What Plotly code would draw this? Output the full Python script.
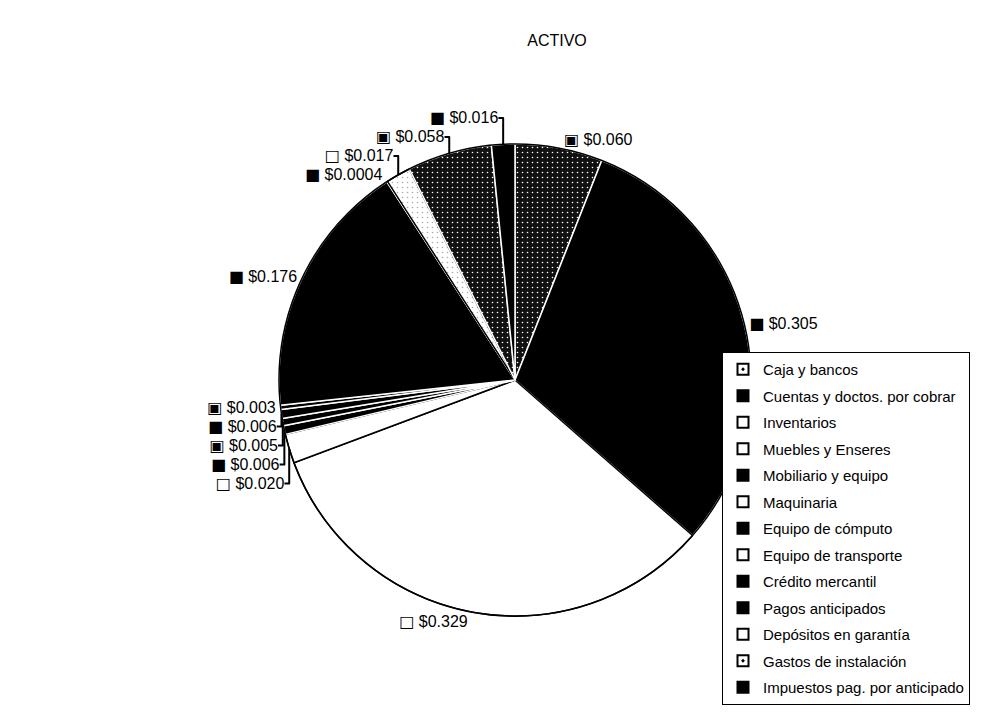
import plotly.graph_objects as go

categories = ["Caja y bancos", "Cuentas y doctos. por cobrar", "Inventarios",
              "Muebles y Enseres", "Mobiliario y equipo", "Maquinaria",
              "Equipo de cómputo", "Equipo de transporte", "Crédito mercantil",
              "Pagos anticipados", "Depósitos en garantía", "Gastos de instalación",
              "Impuestos pag. por anticipado"]
values = [0.060, 0.305, 0.329, 0.020, 0.006, 0.005, 0.006, 0.003, 0.176,
          0.0004, 0.017, 0.058, 0.016]
label_marks = ["▣", "■", "□", "□", "■", "▣", "■", "▣", "■", "■", "□", "▣", "■"]
fill_colors = ["#111111", "#000000", "#ffffff", "#ffffff", "#000000", "#000000",
               "#000000", "#000000", "#000000", "#000000", "#ffffff", "#111111",
               "#000000"]
pattern_shapes = [".", "", "", "", "", "", "", "", "", "", ".", ".", ""]
legend_symbols = ["square-dot", "square", "square", "square", "square",
                  "square", "square", "square", "square", "square",
                  "square", "square-dot", "square"]
legend_fills = ["white", "black", "white", "white", "black", "white", "black",
                "white", "black", "black", "white", "white", "black"]

W, H = 981, 712

def fmt(v):
    return f"${v:.4f}" if v < 0.001 else f"${v:.3f}"

texts = [f'<span style="font-family:DejaVu Sans;font-size:16px">{m}</span> {fmt(v)}'
         for m, v in zip(label_marks, values)]
line_colors = ["#ffffff" if c != "#ffffff" else "#000000" for c in fill_colors]
pat_fg = ["#ffffff" if c != "#ffffff" else "#aaaaaa" for c in fill_colors]
dom = dict(x=[279 / W, 751 / W], y=[1 - 616 / H, 1 - 144 / H])

fig = go.Figure()
fig.add_trace(go.Pie(
    labels=categories, values=values, text=texts,
    texttemplate="%{text}", textposition="outside",
    sort=False, direction="clockwise", rotation=0,
    marker=dict(colors=fill_colors,
                line=dict(color=line_colors, width=1.5),
                pattern=dict(shape=pattern_shapes, fgcolor=pat_fg,
                             bgcolor=fill_colors, size=5, solidity=0.08)),
    outsidetextfont=dict(size=16, color="black",
                         family="Liberation Sans, Arial, sans-serif"),
    domain=dom, showlegend=False, automargin=False,
))

# black outline around the pie
fig.add_trace(go.Pie(
    values=[1], labels=[""], textinfo="none", hoverinfo="skip",
    marker=dict(colors=["rgba(0,0,0,0)"], line=dict(color="black", width=1.5)),
    domain=dom, showlegend=False, sort=False,
))

for name, sym, fc in zip(categories, legend_symbols, legend_fills):
    fig.add_trace(go.Scatter(
        x=[None], y=[None], mode="markers", name=name, legendgroup=name,
        marker=dict(symbol=sym, size=11, color=fc,
                    line=dict(color="black", width=2)),
    ))

fig.update_layout(
    width=W, height=H,
    margin=dict(l=0, r=0, t=0, b=0, autoexpand=False),
    paper_bgcolor="white", plot_bgcolor="white",
    xaxis=dict(visible=False), yaxis=dict(visible=False),
    title=dict(text="ACTIVO", x=557 / W, xanchor="center", y=1 - 40 / H,
               yanchor="middle",
               font=dict(size=16, color="black",
                         family="Liberation Sans, Arial, sans-serif")),
    font=dict(family="Liberation Sans, Arial, sans-serif", color="black"),
    legend=dict(x=722 / W, y=1 - 352 / H, xanchor="left", yanchor="top",
                bordercolor="black", borderwidth=1, bgcolor="white",
                font=dict(size=15, color="black"),
                tracegroupgap=4, itemwidth=30),
)

fig.write_html("out.html")
